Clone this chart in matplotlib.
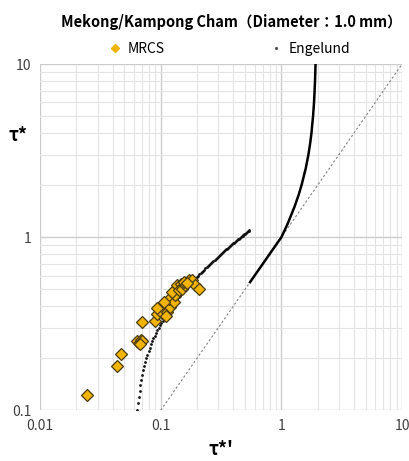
import matplotlib.pyplot as plt
from matplotlib.ticker import FixedLocator, FixedFormatter, LogLocator, NullFormatter

plt.rcParams['font.family'] = ['Noto Sans CJK JP', 'DejaVu Sans']

# MRCS measurements (tau*', tau*)
mrcs_x = [0.0246, 0.043, 0.047, 0.063, 0.066, 0.068, 0.070, 0.067, 0.070,
          0.0904, 0.093, 0.0994, 0.106, 0.102, 0.113, 0.120, 0.1165, 0.128,
          0.132, 0.124, 0.136, 0.146, 0.141, 0.150, 0.160, 0.171, 0.182,
          0.194, 0.2065, 0.106, 0.093, 0.110, 0.155, 0.165]
mrcs_y = [0.122, 0.18, 0.211, 0.25, 0.245, 0.255, 0.25, 0.24, 0.324,
          0.328, 0.362, 0.378, 0.399, 0.365, 0.37, 0.395, 0.442, 0.423,
          0.462, 0.483, 0.528, 0.54, 0.494, 0.505, 0.528, 0.564, 0.569,
          0.528, 0.505, 0.423, 0.392, 0.35, 0.55, 0.545]

# Engelund lower regime (dots)
eng_low_y = [0.10, 0.11, 0.12, 0.13, 0.14, 0.15, 0.16, 0.17, 0.18, 0.19,
             0.20, 0.21, 0.22, 0.23, 0.24, 0.25, 0.26, 0.27, 0.28, 0.29,
             0.30, 0.31, 0.32, 0.33, 0.34, 0.35, 0.36, 0.37, 0.38, 0.39,
             0.40, 0.41, 0.42, 0.43, 0.44, 0.45, 0.46, 0.47, 0.48, 0.49,
             0.50, 0.51, 0.52, 0.53, 0.54, 0.55, 0.56, 0.57, 0.58, 0.59,
             0.60, 0.61, 0.62, 0.63, 0.64, 0.65, 0.66, 0.67, 0.68, 0.69,
             0.70, 0.71, 0.72, 0.73, 0.74, 0.75, 0.76, 0.77, 0.78, 0.79,
             0.80, 0.81, 0.82, 0.83, 0.84, 0.85, 0.86, 0.87, 0.88, 0.89,
             0.90, 0.91, 0.92, 0.93, 0.94, 0.95, 0.96, 0.97, 0.98, 0.99,
             1.00, 1.01, 1.02, 1.03, 1.04, 1.05, 1.06, 1.07, 1.08, 1.09, 1.10]
eng_low_x = [0.0640, 0.0648, 0.0658, 0.0668, 0.0678, 0.0690, 0.0702, 0.0716, 0.0730, 0.0744,
             0.0760, 0.0776, 0.0794, 0.0812, 0.0830, 0.0850, 0.0870, 0.0892, 0.0914, 0.0936,
             0.0960, 0.0984, 0.1010, 0.1036, 0.1062, 0.1090, 0.1118, 0.1148, 0.1178, 0.1208,
             0.1240, 0.1272, 0.1306, 0.1340, 0.1374, 0.1410, 0.1446, 0.1484, 0.1522, 0.1560,
             0.1600, 0.1640, 0.1682, 0.1724, 0.1766, 0.1810, 0.1854, 0.1900, 0.1946, 0.1992,
             0.2040, 0.2088, 0.2138, 0.2188, 0.2238, 0.2290, 0.2342, 0.2396, 0.2450, 0.2504,
             0.2560, 0.2616, 0.2674, 0.2732, 0.2790, 0.2850, 0.2910, 0.2972, 0.3034, 0.3096,
             0.3160, 0.3224, 0.3290, 0.3356, 0.3422, 0.3490, 0.3558, 0.3628, 0.3698, 0.3768,
             0.3840, 0.3912, 0.3986, 0.4060, 0.4134, 0.4210, 0.4286, 0.4364, 0.4442, 0.4520,
             0.4600, 0.4680, 0.4762, 0.4844, 0.4926, 0.5010, 0.5094, 0.5180, 0.5266, 0.5352, 0.5440]

# Engelund upper regime (line)
eng_up_x = [0.55, 1.0, 1.067, 1.129, 1.285, 1.388, 1.470, 1.592, 1.675,
            1.733, 1.775, 1.830, 1.864, 1.885, 1.900, 1.919]
eng_up_y = [0.55, 1.0, 1.1, 1.2, 1.5, 1.75, 2.0, 2.5, 3.0,
            3.5, 4.0, 5.0, 6.0, 7.0, 8.0, 10.0]

# 1:1 line
one_x = [0.1, 10]
one_y = [0.1, 10]

ticks = [0.01, 0.1, 1, 10]
tick_labels = ['0.01', '0.1', '1', '10']
yticks = [0.1, 1, 10]
ytick_labels = ['0.1', '1', '10']

fig = plt.figure(figsize=(4.09, 4.61), dpi=100)
ax = fig.add_axes([0.098, 0.110, 0.885, 0.751])

ax.plot(one_x, one_y, linestyle=(0, (2, 2)), color='#808080', linewidth=0.8, zorder=2)
ax.scatter(eng_low_x, eng_low_y, s=4.0, color='#111111', linewidths=0, zorder=3)
ax.plot(eng_up_x, eng_up_y, color='black', linewidth=1.8, zorder=3)
ax.plot(mrcs_x, mrcs_y, linestyle='none', marker='D', markersize=6,
        markerfacecolor='#F2B400', markeredgecolor='#4a3c10', markeredgewidth=0.9,
        zorder=4)

ax.set_xscale('log')
ax.set_yscale('log')
ax.set_xlim(0.01, 10)
ax.set_ylim(0.1, 10)

ax.xaxis.set_major_locator(FixedLocator(ticks))
ax.xaxis.set_major_formatter(FixedFormatter(tick_labels))
ax.yaxis.set_major_locator(FixedLocator(yticks))
ax.yaxis.set_major_formatter(FixedFormatter(ytick_labels))
for a in (ax.xaxis, ax.yaxis):
    a.set_minor_locator(LogLocator(base=10, subs=range(2, 10)))
    a.set_minor_formatter(NullFormatter())

ax.grid(True, which='major', color='#cccccc', linewidth=1.0)
ax.grid(True, which='minor', color='#e3e3e3', linewidth=0.8)
ax.set_axisbelow(True)
ax.tick_params(which='both', length=0, labelsize=10, labelcolor='#404040', pad=6)
for s in ax.spines.values():
    s.set_visible(False)

fig.text(0.565, 0.952, 'Mekong/Kampong Cham（Diameter：1.0 mm）', ha='center', va='center',
         fontsize=10.5, fontweight='bold')

# legend
ax.plot([], [], linestyle='none', marker='D', markersize=4, markerfacecolor='#F2B400',
        markeredgecolor='#F2B400', label='MRCS')
ax.plot([], [], linestyle='none', marker='o', markersize=1.3, color='#555555', label='Engelund')
fig.legend(loc='center', bbox_to_anchor=(0.56, 0.893), ncol=2, frameon=False,
           fontsize=10, handlelength=1.0, handletextpad=0.4, columnspacing=7.5)

fig.text(0.044, 0.707, 'τ*', ha='center', va='center', fontsize=13, fontweight='bold')
fig.text(0.54, 0.025, "τ*'", ha='center', va='center', fontsize=13, fontweight='bold')

fig.savefig('out.png', dpi=100)
